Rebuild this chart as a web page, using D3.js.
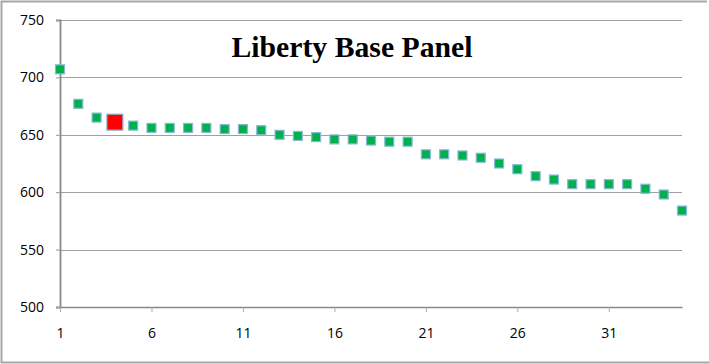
<!DOCTYPE html>
<html>
<head>
<meta charset="utf-8">
<script src="https://cdn.jsdelivr.net/npm/d3@7"></script>
<style>
  html, body { margin: 0; padding: 0; background: #fff; }
  svg { display: block; }
</style>
</head>
<body>
<svg id="chart" width="709" height="364"></svg>
<script>
// Panel ranking: position 1..35 and the score at each position
const positions = d3.range(1, 36);
const scores = [707, 677, 665, 661, 658, 656, 656, 656, 656, 655,
                655, 654, 650, 649, 648, 646, 646, 645, 644, 644,
                633, 633, 632, 630, 625, 620, 614, 611, 607, 607,
                607, 607, 603, 598, 584];
const highlightIndex = [3];           // the highlighted panel (position 4)
const yTicks = [500, 550, 600, 650, 700, 750];
const xTicks = [1, 6, 11, 16, 21, 26, 31];
const chartTitle = "Liberty Base Panel";

const svg = d3.select("#chart");
const plot = { left: 60, right: 682, top: 20, bottom: 307 };

// outer frame
svg.append("path")
  .attr("d", `M707,1.5 H1.5 V362.5 H709`)
  .attr("fill", "none").attr("stroke", "#a6a6a6").attr("stroke-width", 2);

const x = d3.scaleLinear().domain([1, 35]).range([plot.left, plot.right]);
const y = d3.scaleLinear().domain([500, 750]).range([plot.bottom, plot.top]);

// horizontal gridlines
svg.append("g")
  .selectAll("line").data(yTicks.filter(d => d > 500)).join("line")
  .attr("x1", plot.left).attr("x2", plot.right)
  .attr("y1", d => Math.round(y(d)) + 0.5).attr("y2", d => Math.round(y(d)) + 0.5)
  .attr("stroke", "#a0a0a0").attr("stroke-width", 1.2);

// y axis
const yAxis = svg.append("g")
  .attr("transform", `translate(${plot.left},0)`)
  .call(d3.axisLeft(y).tickValues(yTicks).tickSize(4).tickPadding(12).tickFormat(d3.format("d")));
yAxis.select(".domain").attr("stroke", "#888").attr("stroke-width", 1.8);
yAxis.selectAll(".tick line").attr("stroke", "#999");
yAxis.selectAll("text")
  .attr("font-family", "'Open Sans', sans-serif").attr("font-size", 14).attr("fill", "#000");

// x axis
const xAxis = svg.append("g")
  .attr("transform", `translate(0,${plot.bottom})`)
  .call(d3.axisBottom(x).tickValues(xTicks).tickSize(5).tickSizeOuter(0).tickPadding(16).tickFormat(d3.format("d")));
xAxis.select(".domain").attr("stroke", "#888").attr("stroke-width", 1.5);
xAxis.selectAll(".tick line").attr("stroke", "#aaa");
xAxis.selectAll("text")
  .attr("font-family", "'Open Sans', sans-serif").attr("font-size", 14).attr("fill", "#000");

// markers
const pts = positions.map((p, i) => ({ p, v: scores[i], hi: highlightIndex.includes(i) }));
svg.append("g")
  .selectAll("rect").data(pts).join("rect")
  .attr("x", d => x(d.p) - (d.hi ? 8 : 4.5))
  .attr("y", d => y(d.v) - (d.hi ? 8 : 4.5))
  .attr("width", d => d.hi ? 16 : 9)
  .attr("height", d => d.hi ? 16 : 9)
  .attr("fill", d => d.hi ? "#ff0000" : "#00b050")
  .attr("stroke", "#8ab9d6").attr("stroke-width", 1.2);

// title
svg.append("text")
  .attr("x", 352).attr("y", 57)
  .attr("text-anchor", "middle")
  .attr("font-family", "'Liberation Serif', 'Times New Roman', serif")
  .attr("font-weight", "bold").attr("font-size", 29.5)
  .attr("textLength", 241).attr("lengthAdjust", "spacingAndGlyphs")
  .text(chartTitle);
</script>
</body>
</html>
